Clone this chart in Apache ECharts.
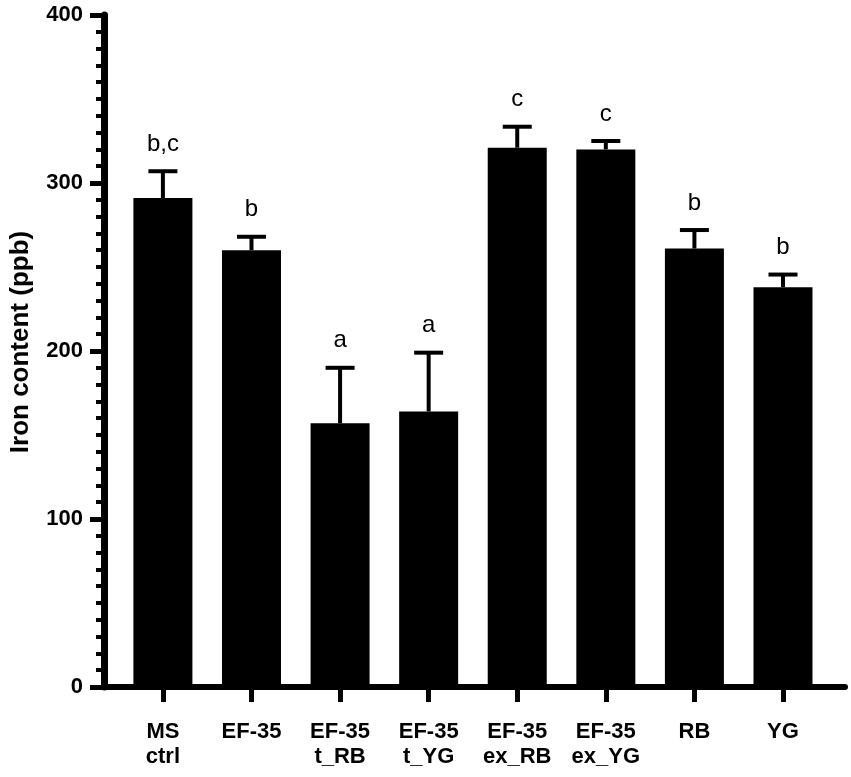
<!DOCTYPE html>
<html>
<head>
<meta charset="utf-8">
<script src="https://cdn.jsdelivr.net/npm/echarts@6/dist/echarts.min.js"></script>
<style>
  html, body { margin: 0; padding: 0; background: #fff; }
  #chart { width: 851px; height: 777px; }
</style>
</head>
<body>
<div id="chart"></div>
<script>
// groups on the x axis
const categories = ["MS\nctrl", "EF-35", "EF-35\nt_RB", "EF-35\nt_YG", "EF-35\nex_RB", "EF-35\nex_YG", "RB", "YG"];
// mean iron content (ppb)
const means = [291, 260, 157, 164, 321, 320, 261, 238];
// upper error (SD)
const errors = [16, 8, 33, 35, 12.5, 5, 11, 7.5];
// significance letters
const letters = ["b,c", "b", "a", "a", "c", "c", "b", "b"];

const FONT = '"Liberation Sans", Arial, sans-serif';
const idx = categories.map((c, i) => i);

const chart = echarts.init(document.getElementById("chart"));

const option = {
    animation: false,
    backgroundColor: "#fff",
    grid: { left: 103, right: 6, top: 15, bottom: 90 },
    xAxis: {
        type: "value",
        min: -0.665,
        max: 7.7,
        splitLine: { show: false },
        axisLine: { show: true, onZero: false, lineStyle: { color: "#000", width: 6 } },
        axisTick: { show: true, customValues: idx, length: 15, lineStyle: { color: "#000", width: 5 } },
        axisLabel: {
            customValues: idx,
            formatter: v => categories[Math.round(v)],
            color: "#000",
            fontFamily: FONT,
            fontWeight: "bold",
            fontSize: 22,
            lineHeight: 25,
            margin: 32
        }
    },
    yAxis: {
        type: "value",
        min: 0,
        max: 400,
        interval: 100,
        name: "Iron content (ppb)",
        nameLocation: "middle",
        nameGap: 70,
        nameTextStyle: { color: "#000", fontFamily: FONT, fontWeight: "bold", fontSize: 26, padding: [0, 0, 0, 18] },
        splitLine: { show: false },
        axisLine: { show: true, onZero: false, lineStyle: { color: "#000", width: 7 } },
        axisTick: { show: true, length: 14, lineStyle: { color: "#000", width: 5 } },
        minorTick: { show: true, splitNumber: 10, length: 8, lineStyle: { color: "#000", width: 4 } },
        axisLabel: {
            color: "#000",
            fontFamily: FONT,
            fontWeight: "bold",
            fontSize: 22,
            margin: 21
        }
    },
    series: [
        {
            type: "bar",
            barWidth: 59,
            itemStyle: { color: "#000" },
            data: means.map((m, i) => [i, m]),
            z: 2
        },
        {
            type: "custom",
            z: 3,
            data: means.map((m, i) => [i, m, errors[i]]),
            renderItem: function (params, api) {
                const x = api.value(0);
                const mean = api.value(1);
                const sd = api.value(2);
                const base = api.coord([x, mean]);
                const top = api.coord([x, mean + sd]);
                const cap = 14.5;
                const st = { stroke: "#000", lineWidth: 4 };
                return {
                    type: "group",
                    children: [
                        { type: "line", shape: { x1: base[0], y1: base[1], x2: top[0], y2: top[1] }, style: st },
                        { type: "line", shape: { x1: top[0] - cap, y1: top[1], x2: top[0] + cap, y2: top[1] }, style: st },
                        {
                            type: "text",
                            style: {
                                x: top[0],
                                y: top[1] - 15,
                                text: letters[params.dataIndex],
                                fill: "#000",
                                font: "24px " + FONT,
                                textAlign: "center",
                                textVerticalAlign: "bottom"
                            }
                        }
                    ]
                };
            }
        }
    ]
};

chart.setOption(option);
</script>
</body>
</html>
